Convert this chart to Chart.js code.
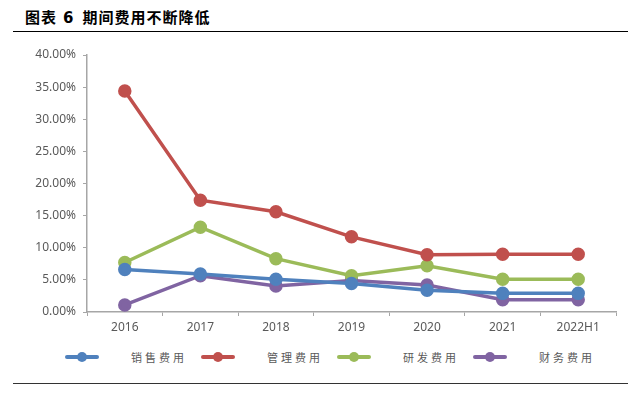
<!DOCTYPE html>
<html>
<head>
<meta charset="utf-8">
<script src="https://cdn.jsdelivr.net/npm/chart.js@4.4.0/dist/chart.umd.min.js"></script>
<style>
  body { margin: 0; background: #fff; width: 634px; height: 399px; position: relative; overflow: hidden;
         font-family: "Noto Sans CJK SC", sans-serif; }
  #title { position: absolute; left: 25px; top: 6px; font-size: 15px; font-weight: bold; color: #000; letter-spacing: 1px; white-space: nowrap; }
  #title .num { font-family: "DejaVu Sans", sans-serif; margin: 0 8px 0 6px; }
  #topline { position: absolute; left: 13px; top: 31px; width: 615px; height: 1px; background: #000; }
  #botline { position: absolute; left: 13px; top: 383px; width: 615px; height: 1px; background: #333; }
  #wrap { position: absolute; left: 0; top: 40px; width: 634px; height: 300px; }
  #legend { position: absolute; left: 65px; top: 348px; display: flex; }
  .item { width: 136px; display: flex; align-items: center; height: 18px; }
  .sample { position: relative; width: 34px; height: 4px; border-radius: 2px; }
  .sample i { position: absolute; left: 12px; top: -3px; width: 10px; height: 10px; border-radius: 50%; }
  .txt { margin-left: 32px; font-size: 11px; letter-spacing: 3px; color: #595959; }
</style>
</head>
<body>
<div id="title">图表<span class="num">6</span>期间费用不断降低</div>
<div id="topline"></div>
<div id="wrap"><canvas id="chart"></canvas></div>
<div id="legend"></div>
<div id="botline"></div>
<script>
const categories = ["2016", "2017", "2018", "2019", "2020", "2021", "2022H1"];
const seriesNames = ["销售费用", "管理费用", "研发费用", "财务费用"];
const sales = [6.6, 5.9, 5.1, 4.45, 3.4, 2.9, 2.9];
const admin = [34.4, 17.4, 15.6, 11.7, 8.9, 9.0, 9.0];
const rnd = [7.7, 13.2, 8.3, 5.65, 7.2, 5.1, 5.1];
const finance = [1.1, 5.65, 4.05, 4.9, 4.2, 1.9, 1.9];
const colors = ["#4F81BD", "#C0504D", "#9BBB59", "#8064A2"];

const allSeries = [sales, admin, rnd, finance];
const textColor = "#595959";
const axisColor = "#a6a6a6";

const ctx = document.getElementById("chart").getContext("2d");
const chart = new Chart(ctx, {
  type: "line",
  data: {
    labels: categories,
    datasets: allSeries.map((data, i) => ({
      label: seriesNames[i],
      data: data,
      borderColor: colors[i],
      backgroundColor: colors[i],
      borderWidth: 3.5,
      pointRadius: 5,
      pointHoverRadius: 5,
      tension: 0,
      fill: false,
      clip: false,
    })),
  },
  options: {
    responsive: true,
    maintainAspectRatio: false,
    animation: false,
    layout: { padding: { top: 15, right: 18, left: 0, bottom: 0 } },
    plugins: { legend: { display: false }, tooltip: { enabled: false } },
    scales: {
      x: {
        offset: true,
        afterFit: (scale) => { scale.height = 28; },
        grid: { display: true, drawOnChartArea: false, drawTicks: true, tickLength: 4, color: axisColor, offset: true },
        border: { color: axisColor, width: 1.5 },
        ticks: { color: textColor, font: { family: "Noto Sans", size: 12 }, padding: 4, maxRotation: 0 },
      },
      y: {
        min: 0,
        max: 40,
        afterFit: (scale) => { scale.width = 87; },
        grid: { display: true, drawOnChartArea: false, drawTicks: true, tickLength: 4, color: axisColor },
        border: { color: axisColor, width: 1.5 },
        ticks: {
          stepSize: 5,
          color: textColor,
          padding: 7,
          font: { family: "Noto Sans", size: 12 },
          callback: (v) => v.toFixed(2) + "%",
        },
      },
    },
  },
});

// HTML legend built from the datasets
const legend = document.getElementById("legend");
seriesNames.forEach((name, i) => {
  const item = document.createElement("div");
  item.className = "item";
  item.innerHTML = '<div class="sample" style="background:' + colors[i] + '"><i style="background:' + colors[i] + '"></i></div>' +
    '<span class="txt">' + name + '</span>';
  legend.appendChild(item);
});
</script>
</body>
</html>
